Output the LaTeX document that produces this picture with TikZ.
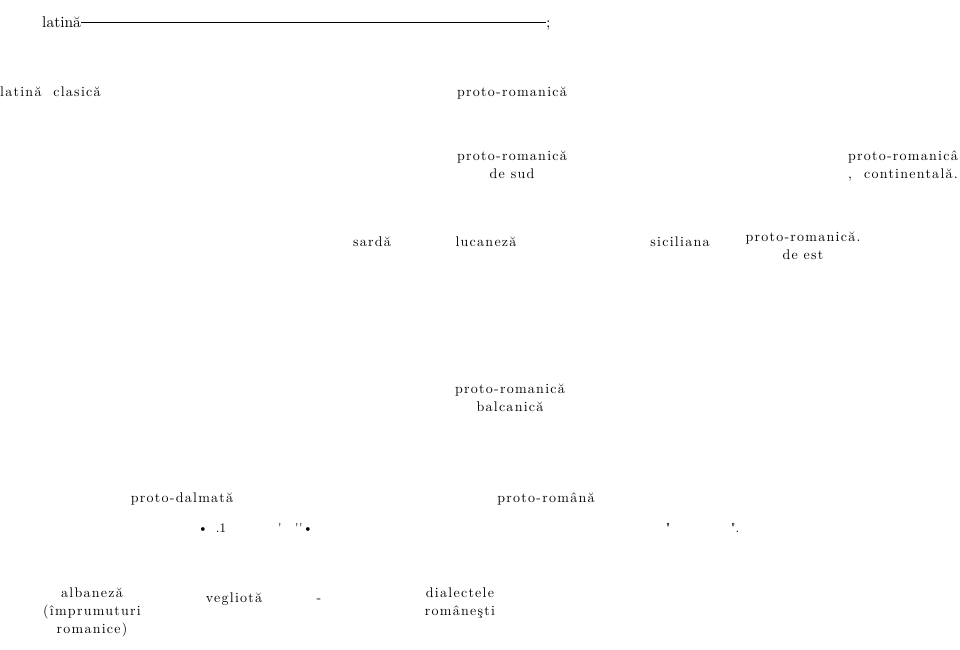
\documentclass[tikz,border=0pt]{standalone}
\usepackage{fontspec}
\usepackage{tikz}
\usetikzlibrary{calc}
\newfontfamily\spaced{lmroman10-regular.otf}[LetterSpace=9]
\newfontfamily\plainrm{lmroman10-regular.otf}

\begin{document}
\begin{tikzpicture}[x=1pt,y=-1pt]
	\tikzset{lbl/.style={inner sep=0pt,anchor=base,
	    font={\spaced\fontsize{14}{18}\selectfont}}}
	\tikzset{blk/.style={lbl,anchor=north,align=center}}
	\tikzset{glyph/.style={inner sep=0pt,anchor=base,font=\plainrm\fontsize{13}{14}\selectfont}}
	\useasboundingbox (0,0) rectangle (960,649);

	% top row
	\node[inner sep=0pt,anchor=base west,font=\plainrm\fontsize{15.5}{18}\selectfont] (lat) at (42,27) {latină};
	\node[inner sep=0pt,anchor=base west,font=\plainrm\fontsize{15.5}{18}\selectfont] (semi) at (546,27) {;};
	\draw[line width=0.8pt] ([yshift=4.5pt]lat.base east) -- ([yshift=4.5pt]semi.base west);

	% first split
	\node[lbl,anchor=base west] (clasica) at (0,96) {latină~ clasică};
	\node[lbl] (proto) at (512,96) {proto-romanică};

	% second split
	\node[blk] (sud) at (512,151) {proto-romanică\\de sud};
	\node[blk,anchor=north east,align=right] (cont) at (958,151) {proto-romanicâ\\,\hspace{12pt}continentală.};

	% southern branches
	\node[lbl] (sarda) at (372,246) {sardă};
	\node[lbl] (lucan) at (486,246) {lucaneză};
	\node[lbl] (sicil) at (680,246) {siciliana};
	\node[blk] (est) at (803,232) {proto-romanică.\\de est};

	% balkan
	\node[blk] (balc) at (510,384) {proto-romanică\\balcanică};
	\node[lbl] (dalm) at (182,502) {proto-dalmată};
	\node[lbl] (roman) at (546,502) {proto-română};

	% stray marks
	\node[glyph] (m1) at (203,532) {\textbullet};
	\node[glyph] (m2) at (221,532) {.1};
	\node[glyph] (m3) at (280,532) {\textquotesingle};
	\node[glyph] (m4) at (297,532) {\textquotesingle};
	\node[glyph] (m5) at (306,532) {\textquotesingle\textbullet};
	\node[glyph] (m6) at (668,532) {\textquotedbl};
	\node[glyph] (m7) at (735,532) {\textquotedbl.};

	% leaves
	\node[blk] (alb) at (92,588) {albaneză\\(împrumuturi\\romanice)};
	\node[lbl] (vegl) at (234,602) {vegliotă};
	\node[lbl] (dash) at (319,602) {-};
	\node[blk] (dial) at (460,588) {dialectele\\româneşti};
\end{tikzpicture}
\end{document}
